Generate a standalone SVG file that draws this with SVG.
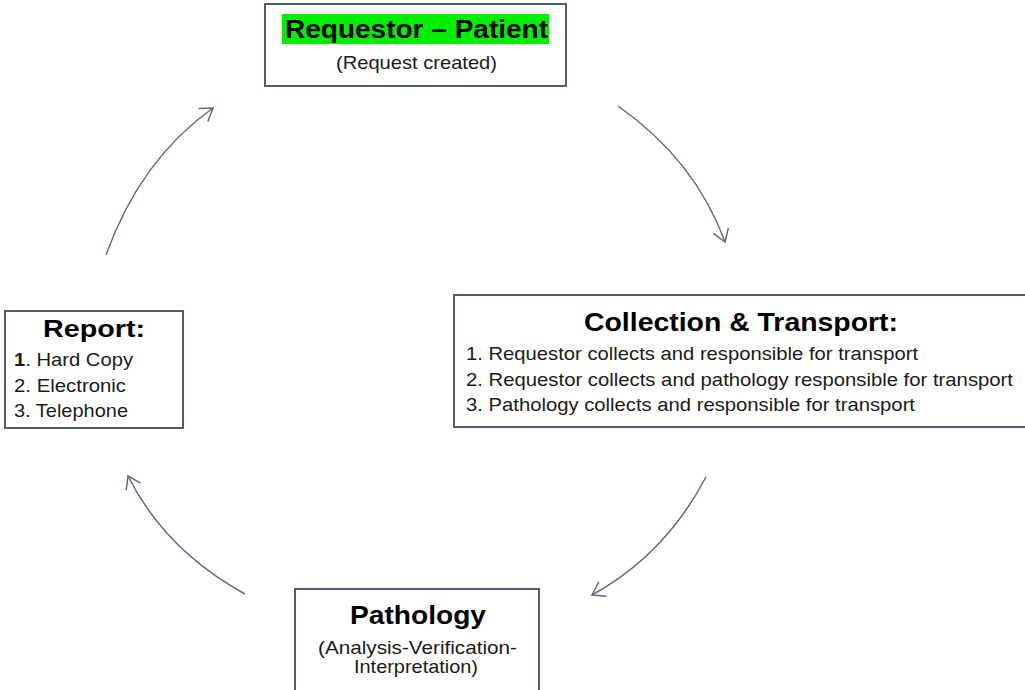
<svg xmlns="http://www.w3.org/2000/svg" width="1025" height="690" viewBox="0 0 1025 690">
<style>
.box{fill:#fff;stroke:#4f5e74;stroke-width:2}
.title{font-family:"Liberation Sans",Arial,sans-serif;font-weight:bold;fill:#000}
.body{font-family:"Liberation Sans",Arial,sans-serif;font-size:19px;fill:#1a1a1a}
.conn{fill:none;stroke:#5d6c82;stroke-width:1.5}
</style>
<defs>
<marker id="arr" viewBox="0 0 20 20" refX="14" refY="10" markerWidth="20" markerHeight="20" markerUnits="userSpaceOnUse" orient="auto">
<path d="M2,2 L14,10 L2,18" fill="none" stroke="#5d6c82" stroke-width="1.5"/>
</marker>
</defs>
<rect width="1025" height="690" fill="#fff"/>
<g id="connectors">
<path class="conn" d="M618,106 Q695,160 725,242" marker-end="url(#arr)"/>
<path class="conn" d="M706,477 Q665,555 592,595" marker-end="url(#arr)"/>
<path class="conn" d="M245,594 Q165,550 128,476" marker-end="url(#arr)"/>
<path class="conn" d="M106,255 Q140,160 213,108" marker-end="url(#arr)"/>
</g>
<g id="node-requestor">
<rect class="box" x="265" y="4" width="301" height="82"/>
<rect x="282" y="14" width="267" height="30" fill="#00ee00"/>
<text class="title" x="416.5" y="38" font-size="25" text-anchor="middle" textLength="263" lengthAdjust="spacingAndGlyphs">Requestor – Patient</text>
<text class="body" x="416.5" y="69" font-size="18" text-anchor="middle" textLength="161" lengthAdjust="spacingAndGlyphs">(Request created)</text>
</g>
<g id="node-collection">
<rect class="box" x="454" y="295" width="575" height="132"/>
<text class="title" x="741" y="331" font-size="26" text-anchor="middle" textLength="314" lengthAdjust="spacingAndGlyphs">Collection &amp; Transport:</text>
<text class="body" x="466" y="360" textLength="452" lengthAdjust="spacingAndGlyphs">1. Requestor collects and responsible for transport</text>
<text class="body" x="466" y="386" textLength="547" lengthAdjust="spacingAndGlyphs">2. Requestor collects and pathology responsible for transport</text>
<text class="body" x="466" y="411" textLength="449" lengthAdjust="spacingAndGlyphs">3. Pathology collects and responsible for transport</text>
</g>
<g id="node-report">
<rect class="box" x="5" y="311" width="178" height="117"/>
<text class="title" x="94" y="337" font-size="24" text-anchor="middle" textLength="102" lengthAdjust="spacingAndGlyphs">Report:</text>
<text class="body" x="14" y="366" textLength="119" lengthAdjust="spacingAndGlyphs"><tspan font-weight="bold">1</tspan>. Hard Copy</text>
<text class="body" x="14" y="392" textLength="112" lengthAdjust="spacingAndGlyphs">2. Electronic</text>
<text class="body" x="14" y="417" textLength="114" lengthAdjust="spacingAndGlyphs">3. Telephone</text>
</g>
<g id="node-pathology">
<rect class="box" x="295" y="589" width="244" height="110"/>
<text class="title" x="418" y="624" font-size="26" text-anchor="middle" textLength="136" lengthAdjust="spacingAndGlyphs">Pathology</text>
<text class="body" x="417.5" y="654" font-size="17" text-anchor="middle" textLength="199" lengthAdjust="spacingAndGlyphs">(Analysis-Verification-</text>
<text class="body" x="416" y="673" font-size="17" text-anchor="middle" textLength="124" lengthAdjust="spacingAndGlyphs">Interpretation)</text>
</g>
</svg>
